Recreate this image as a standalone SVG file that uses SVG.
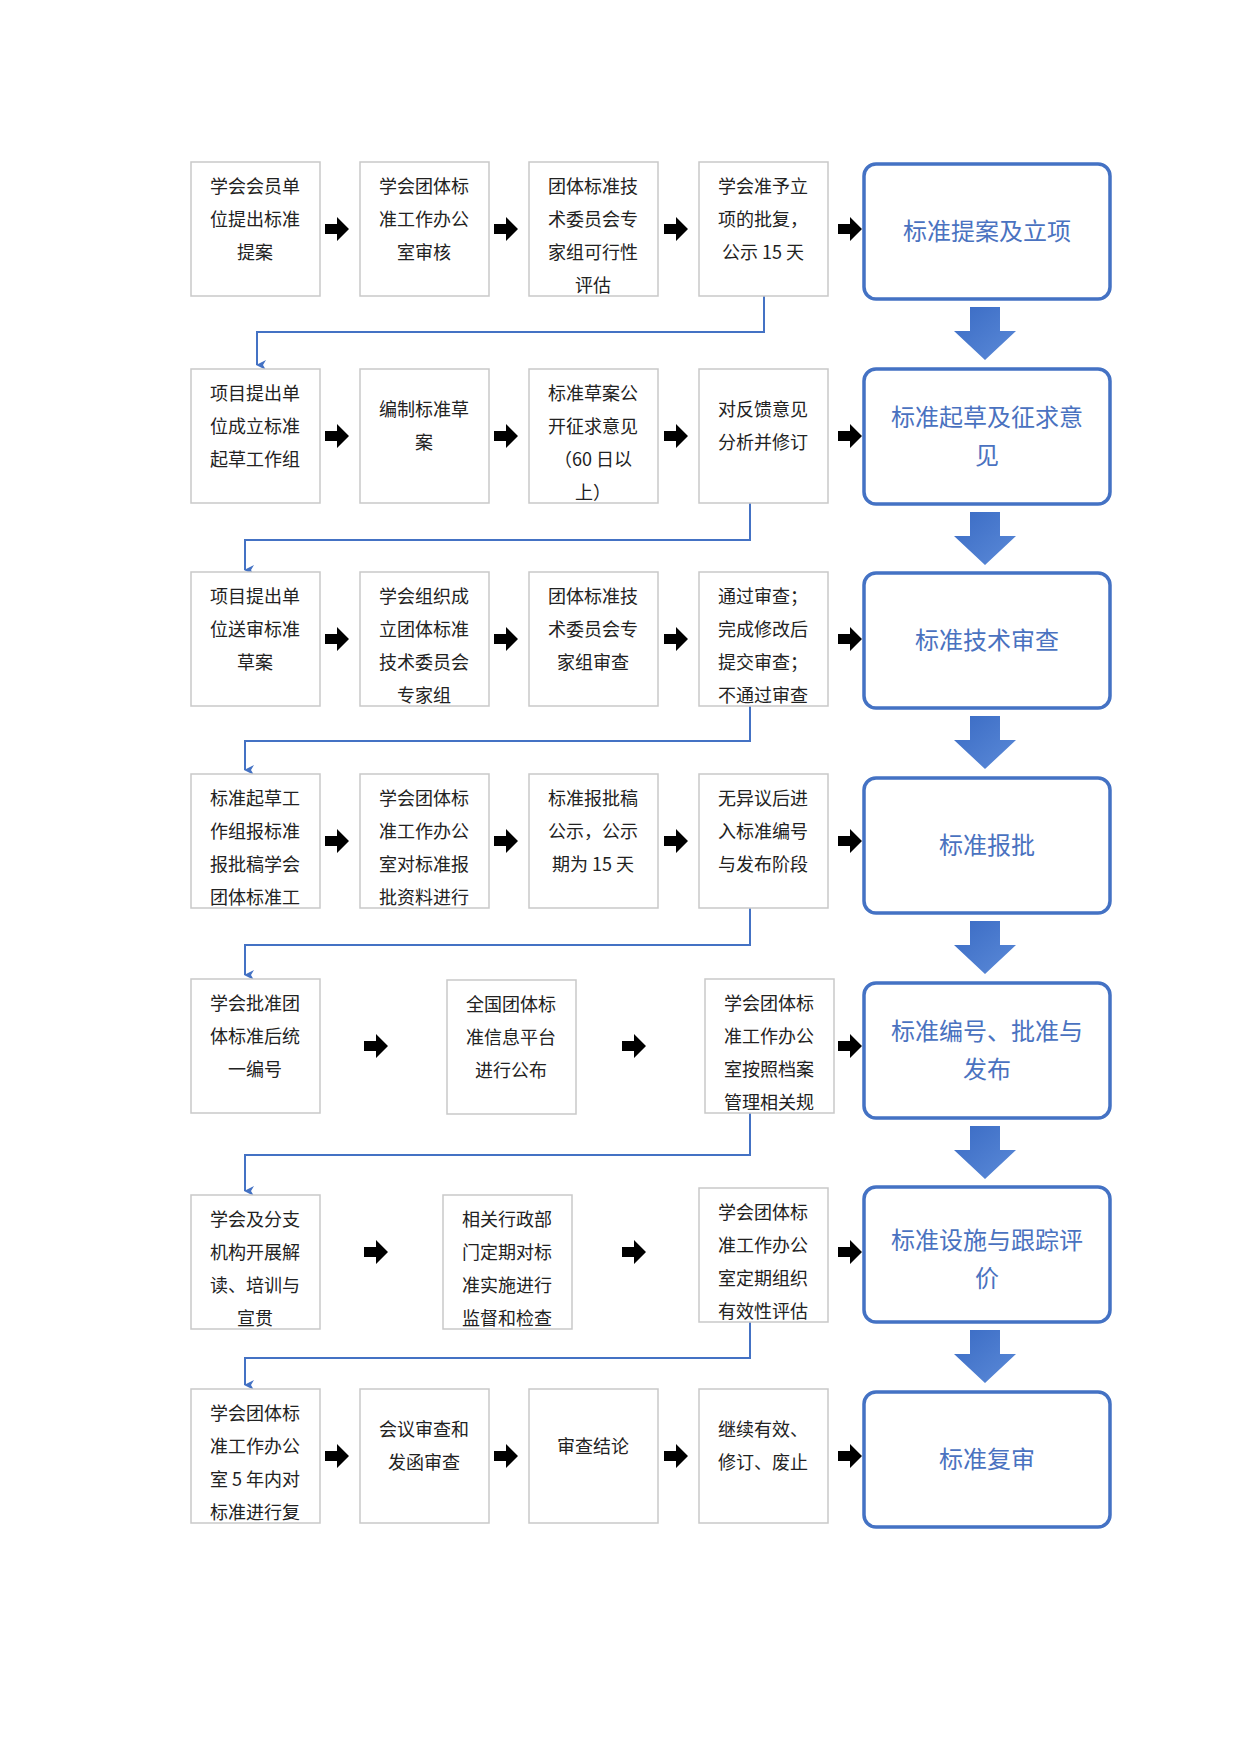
<svg xmlns="http://www.w3.org/2000/svg" xmlns:xlink="http://www.w3.org/1999/xlink" width="1241" height="1755" viewBox="0 0 1241 1755">
<style>
.b{fill:#fff;stroke:#c9c9c9;stroke-width:1.5}
.t{font-family:"Noto Sans CJK SC","Liberation Sans",sans-serif;font-size:18px;fill:#222;text-anchor:middle}
.bb{fill:#fff;stroke:#4472c4;stroke-width:3.5}
.bt{font-family:"Noto Sans CJK SC","Liberation Sans",sans-serif;font-size:24px;fill:#4a72c0;text-anchor:middle}
.c{fill:none;stroke:#4472c4;stroke-width:2}
</style>
<defs>
<path id="ar" d="M0,-5H12V-12L24,0L12,12V5H0Z" fill="#000"/>
<linearGradient id="g" x1="0" y1="0" x2="1" y2="1"><stop offset="0" stop-color="#3a6bc4"/><stop offset="1" stop-color="#5b8ad8"/></linearGradient>
<path id="da" d="M-15,0H15V24H31L0,53L-31,24H-15Z" fill="url(#g)"/>
<marker id="m" markerWidth="10" markerHeight="10" refX="5" refY="9" orient="auto" markerUnits="userSpaceOnUse"><path d="M0,0L5,10L10,0L5,3Z" fill="#4472c4"/></marker>
<clipPath id="k1"><rect x="529" y="162" width="129" height="134"/></clipPath>
<clipPath id="k2"><rect x="529" y="369" width="129" height="134"/></clipPath>
<clipPath id="k3"><rect x="360" y="572" width="129" height="134"/></clipPath>
<clipPath id="k4"><rect x="699" y="572" width="129" height="134"/></clipPath>
<clipPath id="k5"><rect x="191" y="774" width="129" height="134"/></clipPath>
<clipPath id="k6"><rect x="360" y="774" width="129" height="134"/></clipPath>
<clipPath id="k7"><rect x="705" y="979" width="129" height="134"/></clipPath>
<clipPath id="k8"><rect x="191" y="1195" width="129" height="134"/></clipPath>
<clipPath id="k9"><rect x="443" y="1195" width="129" height="134"/></clipPath>
<clipPath id="k10"><rect x="699" y="1188" width="129" height="134"/></clipPath>
<clipPath id="k11"><rect x="191" y="1389" width="129" height="134"/></clipPath>
</defs>

<g id="connectors">
<path class="c" d="M764,296V332H257V365" marker-end="url(#m)"/>
<path class="c" d="M750,503V540H245V570" marker-end="url(#m)"/>
<path class="c" d="M750,706V741H245V770" marker-end="url(#m)"/>
<path class="c" d="M750,908V945H245V975" marker-end="url(#m)"/>
<path class="c" d="M750,1113V1155H245V1191" marker-end="url(#m)"/>
<path class="c" d="M750,1322V1358H245V1385" marker-end="url(#m)"/>
<use href="#ar" x="325" y="229"/><use href="#ar" x="494" y="229"/><use href="#ar" x="664" y="229"/><use href="#ar" x="838" y="229"/>
<use href="#ar" x="325" y="436"/><use href="#ar" x="494" y="436"/><use href="#ar" x="664" y="436"/><use href="#ar" x="838" y="436"/>
<use href="#ar" x="325" y="639"/><use href="#ar" x="494" y="639"/><use href="#ar" x="664" y="639"/><use href="#ar" x="838" y="639"/>
<use href="#ar" x="325" y="841"/><use href="#ar" x="494" y="841"/><use href="#ar" x="664" y="841"/><use href="#ar" x="838" y="841"/>
<use href="#ar" x="364" y="1046"/><use href="#ar" x="622" y="1046"/><use href="#ar" x="838" y="1046"/>
<use href="#ar" x="364" y="1252"/><use href="#ar" x="622" y="1252"/><use href="#ar" x="838" y="1252"/>
<use href="#ar" x="325" y="1456"/><use href="#ar" x="494" y="1456"/><use href="#ar" x="664" y="1456"/><use href="#ar" x="838" y="1456"/>
<use href="#da" x="985" y="307"/><use href="#da" x="985" y="512"/><use href="#da" x="985" y="716"/><use href="#da" x="985" y="921"/><use href="#da" x="985" y="1126"/><use href="#da" x="985" y="1330"/>
</g>

<g id="r1b1"><rect class="b" x="191" y="162" width="129" height="134"/><text class="t"><tspan x="255" y="193">学会会员单</tspan><tspan x="255" y="226">位提出标准</tspan><tspan x="255" y="259">提案</tspan></text></g>
<g id="r1b2"><rect class="b" x="360" y="162" width="129" height="134"/><text class="t"><tspan x="424" y="193">学会团体标</tspan><tspan x="424" y="226">准工作办公</tspan><tspan x="424" y="259">室审核</tspan></text></g>
<g id="r1b3"><rect class="b" x="529" y="162" width="129" height="134"/><text class="t" clip-path="url(#k1)"><tspan x="593" y="193">团体标准技</tspan><tspan x="593" y="226">术委员会专</tspan><tspan x="593" y="259">家组可行性</tspan><tspan x="593" y="292">评估</tspan></text></g>
<g id="r1b4"><rect class="b" x="699" y="162" width="129" height="134"/><text class="t"><tspan x="763" y="193">学会准予立</tspan><tspan x="763" y="226">项的批复，</tspan><tspan x="763" y="259">公示 15 天</tspan></text></g>
<g id="r1b5"><rect class="bb" x="864" y="164" width="246" height="135" rx="12"/><text class="bt" x="987" y="240">标准提案及立项</text></g>

<g id="r2b1"><rect class="b" x="191" y="369" width="129" height="134"/><text class="t"><tspan x="255" y="400">项目提出单</tspan><tspan x="255" y="433">位成立标准</tspan><tspan x="255" y="466">起草工作组</tspan></text></g>
<g id="r2b2"><rect class="b" x="360" y="369" width="129" height="134"/><text class="t"><tspan x="424" y="416">编制标准草</tspan><tspan x="424" y="449">案</tspan></text></g>
<g id="r2b3"><rect class="b" x="529" y="369" width="129" height="134"/><text class="t" clip-path="url(#k2)"><tspan x="593" y="400">标准草案公</tspan><tspan x="593" y="433">开征求意见</tspan><tspan x="593" y="466">（60 日以</tspan><tspan x="593" y="499">上）</tspan></text></g>
<g id="r2b4"><rect class="b" x="699" y="369" width="129" height="134"/><text class="t"><tspan x="763" y="416">对反馈意见</tspan><tspan x="763" y="449">分析并修订</tspan></text></g>
<g id="r2b5"><rect class="bb" x="864" y="369" width="246" height="135" rx="12"/><text class="bt"><tspan x="987" y="426">标准起草及征求意</tspan><tspan x="987" y="464">见</tspan></text></g>

<g id="r3b1"><rect class="b" x="191" y="572" width="129" height="134"/><text class="t"><tspan x="255" y="603">项目提出单</tspan><tspan x="255" y="636">位送审标准</tspan><tspan x="255" y="669">草案</tspan></text></g>
<g id="r3b2"><rect class="b" x="360" y="572" width="129" height="134"/><text class="t" clip-path="url(#k3)"><tspan x="424" y="603">学会组织成</tspan><tspan x="424" y="636">立团体标准</tspan><tspan x="424" y="669">技术委员会</tspan><tspan x="424" y="702">专家组</tspan></text></g>
<g id="r3b3"><rect class="b" x="529" y="572" width="129" height="134"/><text class="t"><tspan x="593" y="603">团体标准技</tspan><tspan x="593" y="636">术委员会专</tspan><tspan x="593" y="669">家组审查</tspan></text></g>
<g id="r3b4"><rect class="b" x="699" y="572" width="129" height="134"/><text class="t" clip-path="url(#k4)"><tspan x="763" y="603">通过审查；</tspan><tspan x="763" y="636">完成修改后</tspan><tspan x="763" y="669">提交审查；</tspan><tspan x="763" y="702">不通过审查</tspan></text></g>
<g id="r3b5"><rect class="bb" x="864" y="573" width="246" height="135" rx="12"/><text class="bt" x="987" y="649">标准技术审查</text></g>

<g id="r4b1"><rect class="b" x="191" y="774" width="129" height="134"/><text class="t" clip-path="url(#k5)"><tspan x="255" y="805">标准起草工</tspan><tspan x="255" y="838">作组报标准</tspan><tspan x="255" y="871">报批稿学会</tspan><tspan x="255" y="904">团体标准工</tspan></text></g>
<g id="r4b2"><rect class="b" x="360" y="774" width="129" height="134"/><text class="t" clip-path="url(#k6)"><tspan x="424" y="805">学会团体标</tspan><tspan x="424" y="838">准工作办公</tspan><tspan x="424" y="871">室对标准报</tspan><tspan x="424" y="904">批资料进行</tspan></text></g>
<g id="r4b3"><rect class="b" x="529" y="774" width="129" height="134"/><text class="t"><tspan x="593" y="805">标准报批稿</tspan><tspan x="593" y="838">公示，公示</tspan><tspan x="593" y="871">期为 15 天</tspan></text></g>
<g id="r4b4"><rect class="b" x="699" y="774" width="129" height="134"/><text class="t"><tspan x="763" y="805">无异议后进</tspan><tspan x="763" y="838">入标准编号</tspan><tspan x="763" y="871">与发布阶段</tspan></text></g>
<g id="r4b5"><rect class="bb" x="864" y="778" width="246" height="135" rx="12"/><text class="bt" x="987" y="854">标准报批</text></g>

<g id="r5b1"><rect class="b" x="191" y="979" width="129" height="134"/><text class="t"><tspan x="255" y="1010">学会批准团</tspan><tspan x="255" y="1043">体标准后统</tspan><tspan x="255" y="1076">一编号</tspan></text></g>
<g id="r5b2"><rect class="b" x="447" y="980" width="129" height="134"/><text class="t"><tspan x="511" y="1011">全国团体标</tspan><tspan x="511" y="1044">准信息平台</tspan><tspan x="511" y="1077">进行公布</tspan></text></g>
<g id="r5b3"><rect class="b" x="705" y="979" width="129" height="134"/><text class="t" clip-path="url(#k7)"><tspan x="769" y="1010">学会团体标</tspan><tspan x="769" y="1043">准工作办公</tspan><tspan x="769" y="1076">室按照档案</tspan><tspan x="769" y="1109">管理相关规</tspan></text></g>
<g id="r5b5"><rect class="bb" x="864" y="983" width="246" height="135" rx="12"/><text class="bt"><tspan x="987" y="1040">标准编号、批准与</tspan><tspan x="987" y="1078">发布</tspan></text></g>

<g id="r6b1"><rect class="b" x="191" y="1195" width="129" height="134"/><text class="t" clip-path="url(#k8)"><tspan x="255" y="1226">学会及分支</tspan><tspan x="255" y="1259">机构开展解</tspan><tspan x="255" y="1292">读、培训与</tspan><tspan x="255" y="1325">宣贯</tspan></text></g>
<g id="r6b2"><rect class="b" x="443" y="1195" width="129" height="134"/><text class="t" clip-path="url(#k9)"><tspan x="507" y="1226">相关行政部</tspan><tspan x="507" y="1259">门定期对标</tspan><tspan x="507" y="1292">准实施进行</tspan><tspan x="507" y="1325">监督和检查</tspan></text></g>
<g id="r6b3"><rect class="b" x="699" y="1188" width="129" height="134"/><text class="t" clip-path="url(#k10)"><tspan x="763" y="1219">学会团体标</tspan><tspan x="763" y="1252">准工作办公</tspan><tspan x="763" y="1285">室定期组织</tspan><tspan x="763" y="1318">有效性评估</tspan></text></g>
<g id="r6b5"><rect class="bb" x="864" y="1187" width="246" height="135" rx="12"/><text class="bt"><tspan x="987" y="1249">标准设施与跟踪评</tspan><tspan x="987" y="1287">价</tspan></text></g>

<g id="r7b1"><rect class="b" x="191" y="1389" width="129" height="134"/><text class="t" clip-path="url(#k11)"><tspan x="255" y="1420">学会团体标</tspan><tspan x="255" y="1453">准工作办公</tspan><tspan x="255" y="1486">室 5 年内对</tspan><tspan x="255" y="1519">标准进行复</tspan></text></g>
<g id="r7b2"><rect class="b" x="360" y="1389" width="129" height="134"/><text class="t"><tspan x="424" y="1436">会议审查和</tspan><tspan x="424" y="1469">发函审查</tspan></text></g>
<g id="r7b3"><rect class="b" x="529" y="1389" width="129" height="134"/><text class="t" x="593" y="1453">审查结论</text></g>
<g id="r7b4"><rect class="b" x="699" y="1389" width="129" height="134"/><text class="t"><tspan x="763" y="1436">继续有效、</tspan><tspan x="763" y="1469">修订、废止</tspan></text></g>
<g id="r7b5"><rect class="bb" x="864" y="1392" width="246" height="135" rx="12"/><text class="bt" x="987" y="1468">标准复审</text></g>
</svg>
